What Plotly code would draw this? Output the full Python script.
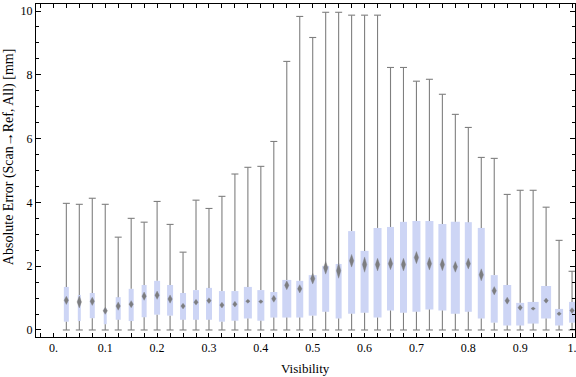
import plotly.graph_objects as go

# ---- data ----
visibility = [0.025, 0.05, 0.075, 0.1, 0.125, 0.15, 0.175, 0.2, 0.225, 0.25,
              0.275, 0.3, 0.325, 0.35, 0.375, 0.4, 0.425, 0.45, 0.475, 0.5,
              0.525, 0.55, 0.575, 0.6, 0.625, 0.65, 0.675, 0.7, 0.725, 0.75,
              0.775, 0.8, 0.825, 0.85, 0.875, 0.9, 0.925, 0.95, 0.975, 1.0]
whisker_max = [3.97, 3.94, 4.13, 3.94, 2.91, 3.50, 3.38, 4.03, 3.31, 2.44,
               4.07, 3.81, 4.19, 4.89, 5.10, 5.13, 5.91, 8.42, 9.83, 9.17,
               9.96, 9.96, 9.87, 9.87, 9.87, 8.23, 8.23, 7.80, 7.86, 7.39,
               6.76, 6.35, 5.41, 5.38, 4.25, 4.38, 4.38, 3.85, 2.81, 1.84]
q3 = [1.35, 1.10, 1.16, 0.68, 1.03, 1.29, 1.41, 1.54, 1.41, 1.16,
      1.25, 1.32, 1.22, 1.22, 1.35, 1.25, 1.19, 1.57, 1.54, 1.72,
      2.01, 2.07, 3.10, 2.48, 3.20, 3.23, 3.39, 3.42, 3.42, 3.32,
      3.39, 3.38, 3.20, 1.72, 1.41, 0.85, 0.88, 1.38, 0.66, 0.88]
median = [0.93, 0.88, 0.90, 0.60, 0.75, 0.81, 1.06, 1.09, 0.97, 0.75,
          0.87, 0.92, 0.78, 0.81, 0.90, 0.89, 0.98, 1.40, 1.29, 1.61,
          1.95, 1.86, 2.17, 2.05, 2.05, 2.08, 2.05, 2.27, 2.08, 2.05,
          1.98, 2.08, 1.73, 1.23, 0.92, 0.70, 0.67, 0.92, 0.51, 0.61]
q1 = [0.26, 0.28, 0.37, 0.18, 0.32, 0.28, 0.40, 0.48, 0.45, 0.32,
      0.32, 0.32, 0.26, 0.29, 0.36, 0.29, 0.39, 0.39, 0.39, 0.45,
      0.57, 0.36, 0.51, 0.54, 0.39, 0.61, 0.54, 0.57, 0.64, 0.61,
      0.51, 0.57, 0.36, 0.23, 0.14, 0.14, 0.20, 0.36, 0.14, 0.23]
whisker_min = [0.0] * 40
# median confidence half-interval (notch), in mm
notch = [0.13, 0.19, 0.13, 0.11, 0.13, 0.11, 0.13, 0.13, 0.13, 0.09,
         0.09, 0.09, 0.09, 0.09, 0.06, 0.06, 0.11, 0.14, 0.13, 0.17,
         0.20, 0.24, 0.20, 0.24, 0.20, 0.19, 0.20, 0.19, 0.20, 0.19,
         0.17, 0.17, 0.19, 0.13, 0.11, 0.09, 0.05, 0.08, 0.06, 0.09]

x_tick_vals = [0.0, 0.1, 0.2, 0.3, 0.4, 0.5, 0.6, 0.7, 0.8, 0.9, 1.0]
x_tick_text = ["0.", "0.1", "0.2", "0.3", "0.4", "0.5", "0.6", "0.7", "0.8", "0.9", "1."]
y_tick_vals = [0, 2, 4, 6, 8, 10]
x_title = "Visibility"
y_title = "Absolute Error (Scan\u2192Ref, All) [mm]"

# ---- style ----
box_px = [5, 3, 5, 3, 5, 5, 5, 6, 6, 6, 6, 6, 6, 7, 8, 7, 7, 9, 7, 8,
          7, 6, 7, 8, 8, 7, 7, 8, 8, 8, 9, 7, 7, 7, 8, 8, 11, 10, 8, 6]
X_RANGE = [-0.0335, 1.0057]
Y_RANGE = [-0.22, 10.22]
ML, MR, MT, MB = 36, 1, 4, 40
PX_PER_X = (576 - ML - MR) / (X_RANGE[1] - X_RANGE[0])
box_widths = [p / PX_PER_X for p in box_px]
diamond_hw = 2.2 / PX_PER_X
BOX_FILL = "#cdd5f5"
GRAY = "#7f7f7f"
FONT = "Liberation Serif"

fig = go.Figure()

fig.add_trace(go.Bar(
    x=visibility, y=[a - b for a, b in zip(q3, q1)], base=q1, width=box_widths,
    marker=dict(color=BOX_FILL, line=dict(width=0)), hoverinfo="skip", showlegend=False))

# whiskers (outside the boxes)
wx, wy = [], []
for x, lo, b1, b3, hi in zip(visibility, whisker_min, q1, q3, whisker_max):
    wx += [x, x, None, x, x, None]
    wy += [lo, b1, None, b3, hi, None]
fig.add_trace(go.Scatter(x=wx, y=wy, mode="lines", line=dict(color=GRAY, width=1.1),
                         hoverinfo="skip", showlegend=False))
# caps
fig.add_trace(go.Scatter(x=visibility + visibility, y=whisker_min + whisker_max, mode="markers",
                         marker=dict(symbol="line-ew", size=5, line=dict(color=GRAY, width=1.1)),
                         hoverinfo="skip", showlegend=False))

# median diamonds
dx, dy = [], []
for x, m, n in zip(visibility, median, notch):
    dx += [x, x + diamond_hw, x, x - diamond_hw, x, None]
    dy += [m + n, m, m - n, m, m + n, None]
fig.add_trace(go.Scatter(x=dx, y=dy, mode="lines", fill="toself",
                         fillcolor="rgba(115,115,115,0.9)", line=dict(width=0.6, color="rgba(130,130,130,0.6)"),
                         hoverinfo="skip", showlegend=False))

fig.update_layout(
    width=576, height=377,
    margin=dict(l=ML, r=MR, t=MT, b=MB, autoexpand=False),
    paper_bgcolor="white", plot_bgcolor="white",
    barmode="overlay",
    font=dict(family=FONT, size=12, color="black"),
    xaxis=dict(range=X_RANGE, showgrid=False, zeroline=False, automargin=False,
               showline=True, linecolor="black", linewidth=1, mirror="allticks",
               ticks="inside", ticklen=4, tickcolor="black", tickwidth=1,
               tickmode="array", tickvals=x_tick_vals, ticktext=x_tick_text,
               ticklabeloverflow="allow",
               minor=dict(ticks="inside", dtick=0.025, tick0=0, ticklen=4, tickcolor="black", showgrid=False)),
    yaxis=dict(range=Y_RANGE, showgrid=False, zeroline=False, automargin=False,
               showline=True, linecolor="black", linewidth=1, mirror="allticks",
               ticks="inside", ticklen=5, tickcolor="black", tickwidth=1,
               tickmode="array", tickvals=y_tick_vals, ticklabeloverflow="allow",
               minor=dict(ticks="inside", dtick=0.5, tick0=0, ticklen=3, tickcolor="black", showgrid=False)),
    annotations=[
        dict(text=x_title, xref="paper", yref="paper", x=0.5, y=0, yanchor="middle",
             yshift=-31, showarrow=False, font=dict(family=FONT, size=13)),
        dict(text=y_title, xref="paper", yref="paper", x=0, y=0.54, xanchor="center",
             xshift=-27, textangle=-90, showarrow=False, font=dict(family=FONT, size=14)),
    ],
)

fig.write_html("out.html", config={"displayModeBar": False},
               post_script="document.body.style.margin='0';document.body.style.padding='0';")
